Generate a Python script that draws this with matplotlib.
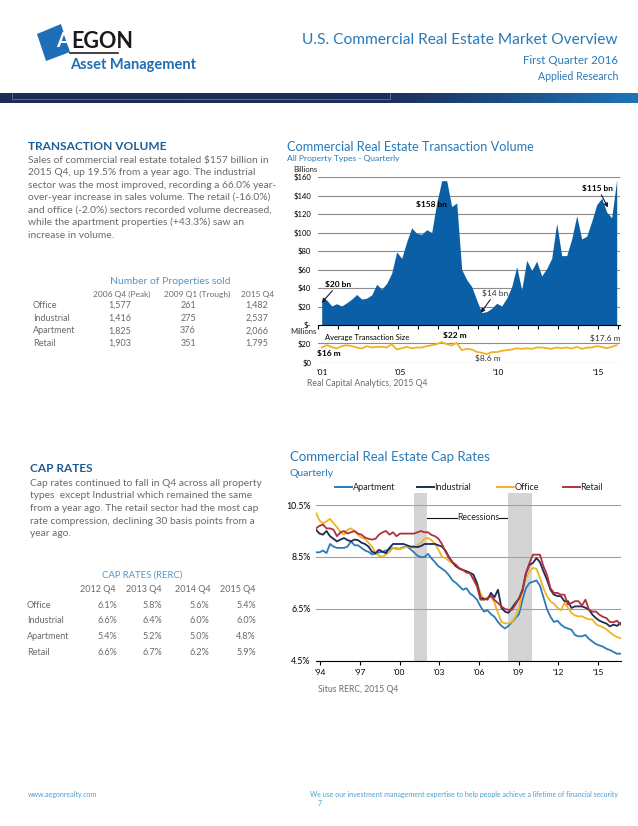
import numpy as np
import matplotlib.pyplot as plt
from matplotlib.patches import Polygon
from matplotlib.colors import LinearSegmentedColormap

plt.rcParams['font.family'] = ['Lato', 'DejaVu Sans']

W, H = 638, 826

# ---- data ----
# quarterly transaction volume, $ billions, 2001 Q1 .. 2015 Q4
volume_bn = [26, 27, 20.6, 23, 20.6, 24, 28, 33, 28, 29, 32.5, 44,
             38.6, 45, 56, 79, 72, 90, 105, 99, 98, 103, 100, 132,
             156, 156, 128, 132, 60, 49, 41.5, 27, 13.4, 14.5, 18, 23.5,
             20.6, 29, 41.5, 63, 38, 70, 59, 69, 53, 61, 72, 110,
             75, 75, 93, 118, 93, 96, 112, 130, 137, 122, 116, 157]
# average transaction size, $ millions
avg_size_m = [15.8, 18.2, 16.5, 14.7, 17.2, 18.2, 17.2, 15.8, 14.7, 17.2, 15.8, 16.5,
              16.5, 15.8, 19.3, 13.7, 15.0, 16.5, 15.0, 15.8, 15.8, 17.2, 18.2, 19.3,
              21.4, 19.3, 17.9, 20.7, 13.0, 14.4, 13.7, 11.2, 10.2, 8.8, 10.9, 10.9,
              12.3, 13.0, 13.7, 15.0, 14.4, 15.0, 14.4, 15.8, 15.8, 15.0, 14.4, 15.8,
              15.0, 15.8, 14.7, 16.5, 14.4, 15.8, 15.8, 17.2, 16.5, 15.0, 16.5, 18.2]

prop_sectors = ['Office', 'Industrial', 'Apartment', 'Retail']
prop_periods = ['2006 Q4 (Peak)', '2009 Q1 (Trough)', '2015 Q4']
prop_counts = [['1,577', '261', '1,482'],
               ['1,416', '275', '2,537'],
               ['1,825', '376', '2,066'],
               ['1,903', '351', '1,795']]

cap_periods = ['2012 Q4', '2013 Q4', '2014 Q4', '2015 Q4']
cap_table = [['6.1%', '5.8%', '5.6%', '5.4%'],
             ['6.6%', '6.4%', '6.0%', '6.0%'],
             ['5.4%', '5.2%', '5.0%', '4.8%'],
             ['6.6%', '6.7%', '6.2%', '5.9%']]

# quarterly cap rates (%), 1994 Q1 .. 2015 Q4
cap_apartment = [8.68, 8.68, 8.75, 8.65, 9.0, 8.9, 8.85, 8.85, 8.85, 8.9, 9.1, 8.95,
                 8.95, 8.85, 8.75, 8.7, 8.6, 8.62, 8.68, 8.7, 8.75, 8.8, 8.85, 8.82,
                 8.82, 8.88, 8.9, 8.8, 8.68, 8.55, 8.5, 8.5, 8.62, 8.45, 8.3, 8.14,
                 8.05, 7.95, 7.8, 7.6, 7.5, 7.37, 7.24, 7.3, 7.1, 7.0, 6.86, 6.6,
                 6.4, 6.45, 6.3, 6.2, 6.0, 5.85, 5.75, 5.85, 6.0, 6.15, 6.3, 6.85,
                 7.3, 7.5, 7.55, 7.6, 7.4, 6.95, 6.5, 6.2, 6.0, 6.05, 5.9, 5.8,
                 5.75, 5.7, 5.5, 5.45, 5.45, 5.5, 5.35, 5.25, 5.15, 5.1, 5.05, 4.97,
                 4.92, 4.85, 4.78, 4.78]
cap_office = [10.2, 9.9, 9.8, 9.87, 9.97, 9.8, 9.65, 9.45, 9.36, 9.55, 9.6, 9.5,
              9.36, 9.25, 9.2, 9.05, 8.9, 8.65, 8.55, 8.5, 8.6, 8.7, 8.85, 8.85,
              8.8, 8.85, 8.9, 8.88, 8.85, 8.95, 9.05, 9.2, 9.23, 9.15, 9.0, 8.78,
              8.5, 8.46, 8.35, 8.27, 8.15, 8.08, 8.0, 7.95, 7.85, 7.7, 7.5, 7.12,
              6.85, 6.95, 7.0, 6.75, 6.35, 6.0, 5.95, 5.94, 6.0, 6.2, 6.5, 7.24,
              7.7, 7.95, 8.08, 8.05, 7.7, 7.3, 7.0, 6.8, 6.7, 6.55, 6.45, 6.73,
              6.55, 6.35, 6.25, 6.22, 6.22, 6.15, 6.1, 6.1, 5.92, 5.85, 5.8, 5.72,
              5.6, 5.5, 5.42, 5.38]
cap_industrial = [9.55, 9.4, 9.36, 9.5, 9.3, 9.2, 9.1, 9.17, 9.23, 9.15, 9.1, 9.17,
                  9.15, 9.05, 9.0, 8.9, 8.7, 8.65, 8.78, 8.7, 8.65, 8.85, 9.0, 9.0,
                  9.0, 9.0, 8.95, 8.9, 8.9, 8.88, 8.92, 9.0, 9.0, 9.0, 9.0, 8.95,
                  8.9, 8.75, 8.5, 8.3, 8.14, 8.05, 8.0, 7.95, 7.9, 7.82, 7.5, 6.92,
                  6.9, 6.86, 7.12, 6.95, 7.24, 6.54, 6.4, 6.35, 6.54, 6.73, 6.9, 7.24,
                  7.88, 8.2, 8.27, 8.46, 8.3, 7.95, 7.63, 7.24, 7.05, 7.0, 6.99, 6.8,
                  6.8, 6.54, 6.6, 6.6, 6.6, 6.55, 6.47, 6.28, 6.15, 6.05, 5.99, 5.94,
                  5.83, 5.9, 5.85, 5.96]
cap_retail = [9.6, 9.7, 9.75, 9.6, 9.6, 9.55, 9.3, 9.45, 9.5, 9.4, 9.45, 9.5,
              9.4, 9.36, 9.25, 9.2, 9.17, 9.2, 9.36, 9.45, 9.5, 9.36, 9.45, 9.3,
              9.4, 9.4, 9.4, 9.4, 9.4, 9.45, 9.5, 9.45, 9.45, 9.35, 9.3, 9.2,
              9.0, 8.7, 8.46, 8.3, 8.2, 8.05, 8.0, 7.9, 7.88, 7.63, 7.37, 6.86,
              6.86, 6.9, 7.0, 6.85, 6.73, 6.6, 6.5, 6.47, 6.47, 6.67, 6.9, 7.18,
              7.88, 8.27, 8.59, 8.59, 8.59, 8.14, 7.82, 7.3, 7.12, 7.12, 7.05, 7.05,
              6.67, 6.73, 6.8, 6.8, 6.63, 6.86, 6.47, 6.4, 6.4, 6.28, 6.2, 6.15,
              6.0, 5.99, 6.05, 5.9]
recessions = [(2001.0, 2001.9), (2007.75, 2009.4)]

BLUE = '#0b5fa7'
TITLE_BLUE = '#2a79b6'
HEAD_BLUE = '#1d5d97'
TABLE_BLUE = '#5296c6'
GREY = '#6a6a6a'
GOLD = '#f0b323'
FOOT = '#4a9fd0'

fig = plt.figure(figsize=(W / 100, H / 100), dpi=100)
bg = fig.add_axes([0, 0, 1, 1])
bg.set_xlim(0, W)
bg.set_ylim(H, 0)
bg.set_autoscale_on(False)
bg.axis('off')


def txt(x, y, s, **kw):
    kw.setdefault('va', 'center')
    bg.text(x, y, s, **kw)


# ---- header ----
bg.add_patch(Polygon([(37, 34), (61, 24), (70, 52), (46, 61)], closed=True,
                     facecolor='#1f6fb8', edgecolor='none'))
txt(56, 41, 'A', fontsize=14.5, fontweight='bold', color='white')
txt(71, 41, 'EGON', fontsize=15.5, fontweight='bold', color='#1a1a1a')
bg.plot([70, 118], [53, 53], color='#222222', lw=1.2)
txt(70, 65, 'Asset Management', fontsize=10.5, fontweight='bold', color='#1f6db3')

txt(618, 40, 'U.S. Commercial Real Estate Market Overview', fontsize=11.2,
    color=TITLE_BLUE, ha='right')
txt(618, 60, 'First Quarter 2016', fontsize=8.3, color=TITLE_BLUE, ha='right')
txt(618, 77, 'Applied Research', fontsize=7.6, color=TITLE_BLUE, ha='right')

band = LinearSegmentedColormap.from_list('band', ['#1c2c57', '#1c2f5c', '#1e74b9'])
grad = np.linspace(0, 1, 256).reshape(1, -1) ** 1.4
bg.imshow(grad, extent=[0, W, 103, 93], aspect='auto', cmap=band, zorder=1)
bg.plot([12, 12, 390, 390], [93, 99, 99, 93], color='#8fa6c8', lw=0.6, alpha=0.6, zorder=2)

# ---- transaction volume text ----
txt(28, 147, 'TRANSACTION VOLUME', fontsize=8.6, fontweight='bold', color=HEAD_BLUE)
tv_lines = ['Sales of commercial real estate totaled $157 billion in',
            '2015 Q4, up 19.5% from a year ago. The industrial',
            'sector was the most improved, recording a 66.0% year-',
            'over-year increase in sales volume. The retail (-16.0%)',
            'and office (-2.0%) sectors recorded volume decreased,',
            'while the apartment properties (+43.3%) saw an',
            'increase in volume.']
for k, line in enumerate(tv_lines):
    txt(28, 160 + k * 12.5, line, fontsize=7.4, color=GREY)

txt(170, 282, 'Number of Properties sold', fontsize=7.5, color=TABLE_BLUE, ha='center')
prop_head_x = [122, 197, 258]
prop_x = [120, 188, 257]
for px_, head in zip(prop_head_x, prop_periods):
    txt(px_, 294, head, fontsize=6.0, color=GREY, ha='center')
for r, (sector, row) in enumerate(zip(prop_sectors, prop_counts)):
    yy = 305.5 + r * 12.7
    txt(33, yy, sector, fontsize=6.5, color=GREY)
    for px_, v in zip(prop_x, row):
        txt(px_, yy, v, fontsize=6.5, color=GREY, ha='center')

# ---- cap rate text ----
txt(30, 469, 'CAP RATES', fontsize=8.6, fontweight='bold', color=HEAD_BLUE)
cr_lines = ['Cap rates continued to fall in Q4 across all property',
            'types  except Industrial which remained the same',
            'from a year ago. The retail sector had the most cap',
            'rate compression, declining 30 basis points from a',
            'year ago.']
for k, line in enumerate(cr_lines):
    txt(30, 483 + k * 12.75, line, fontsize=7.4, color=GREY)

txt(142, 575, 'CAP RATES (RERC)', fontsize=6.8, color=TABLE_BLUE, ha='center')
cap_head_x = [98, 144, 193, 238]
cap_val_x = [117, 162, 209, 256]
for px_, head in zip(cap_head_x, cap_periods):
    txt(px_, 589, head, fontsize=6.5, color=GREY, ha='center')
for r, (sector, row) in enumerate(zip(prop_sectors, cap_table)):
    yy = 605 + r * 15.7
    txt(27, yy, sector, fontsize=6.5, color=GREY)
    for px_, v in zip(cap_val_x, row):
        txt(px_, yy, v, fontsize=6.5, color=GREY, ha='right')

# ---- transaction volume chart ----
txt(287, 147, 'Commercial Real Estate Transaction Volume', fontsize=9.2,
    color=TITLE_BLUE)
txt(287, 159, 'All Property Types - Quarterly', fontsize=6.1, color=TITLE_BLUE)
txt(293, 169.5, 'Billions', fontsize=5.5, color='#222222')
txt(290, 332, 'Millions', fontsize=5.5, color='#222222')

qx = 2001.185 + 0.25 * np.arange(len(volume_bn))

ax1 = fig.add_axes([318 / W, 1 - 325 / H, 302 / W, 148 / H])
ax1.set_facecolor('none')
ax1.fill_between(qx, volume_bn, 0, color=BLUE, lw=0, zorder=2)
ax1.set_xlim(2001, 2016.1)
ax1.set_ylim(0, 160)
ax1.set_yticks(np.arange(0, 161, 20))
ax1.set_yticklabels(['$-'] + ['$%d' % v for v in range(20, 161, 20)])
ax1.set_axisbelow(True)
ax1.grid(axis='y', color='#8c8c8c', lw=0.8)
ax1.set_xticks(np.arange(2001, 2017))
ax1.tick_params(axis='x', length=3, width=0.8, direction='out', labelbottom=False)
ax1.tick_params(axis='y', length=0, labelsize=5.5, pad=5)
for s in ['top', 'right', 'left']:
    ax1.spines[s].set_visible(False)
ax1.spines['bottom'].set_linewidth(0.8)

ax1.annotate('$20 bn', xy=(qx[0], 24), xytext=(2002.0, 44), fontsize=6,
             fontweight='bold', ha='center', va='center', zorder=5,
             arrowprops=dict(arrowstyle='-|>', color='#1a1a3a', lw=0.8,
                             mutation_scale=6, shrinkA=0, shrinkB=0))
ax1.text(2006.7, 130.5, '$158 bn', fontsize=6, fontweight='bold', ha='center', va='center')
ax1.annotate('$14 bn', xy=(qx[32] - 0.05, 13), xytext=(2009.85, 34.5), fontsize=6,
             color='#333333', ha='center', va='center', zorder=5,
             arrowprops=dict(arrowstyle='-|>', color='#1a1a3a', lw=0.8,
                             mutation_scale=6, shrinkA=0, shrinkB=0))
ax1.annotate('$115 bn', xy=(2015.5, 127), xytext=(2015.0, 147.5), fontsize=6,
             fontweight='bold', ha='center', va='center', zorder=5,
             arrowprops=dict(arrowstyle='-|>', color='#1a1a3a', lw=0.8,
                             mutation_scale=6, shrinkA=0, shrinkB=0))

ax2 = fig.add_axes([318 / W, 1 - 362.5 / H, 302 / W, 23.75 / H])
ax2.set_facecolor('none')
ax2.plot(qx, avg_size_m, color=GOLD, lw=1.3, zorder=3)
ax2.set_xlim(2001, 2016.1)
ax2.set_ylim(0, 25)
ax2.set_yticks([0, 20])
ax2.set_yticklabels(['$0', '$20'])
ax2.grid(axis='y', color='#8c8c8c', lw=0.8)
ax2.set_xticks([2001.2, 2005.1, 2010.0, 2015.0])
ax2.set_xticklabels(["'01", "'05", "'10", "'15"])
ax2.tick_params(axis='x', length=0, labelsize=6, pad=5)
ax2.tick_params(axis='y', length=0, labelsize=5.5, pad=5)
for s in ax2.spines.values():
    s.set_visible(False)
ax2.text(2001.35, 26.8, 'Average Transaction Size', fontsize=5.5, va='center', clip_on=False)
ax2.text(2007.85, 28, '$22 m', fontsize=6, fontweight='bold', ha='center', va='center')
ax2.text(2000.95, 9.8, '$16 m', fontsize=6, fontweight='bold', va='center')
ax2.text(2009.5, 4.5, '$8.6 m', fontsize=6, color='#333333', ha='center', va='center')
ax2.text(2016.1, 25.5, '$17.6 m', fontsize=6, color='#333333', ha='right', va='center')

txt(307, 384, 'Real Capital Analytics, 2015 Q4', fontsize=6.2, color=GREY)

# ---- cap rate chart ----
txt(290, 457, 'Commercial Real Estate Cap Rates', fontsize=9.5, color=TITLE_BLUE)
txt(290, 473, 'Quarterly', fontsize=7.5, color=TITLE_BLUE)

cap_names = ['Apartment', 'Industrial', 'Office', 'Retail']
cap_colors = ['#2b7bb9', '#1f2a57', GOLD, '#b3303b']
legend_x = [335, 417, 497, 563]
for name, col, lx in zip(cap_names, cap_colors, legend_x):
    bg.plot([lx, lx + 17], [487, 487], color=col, lw=1.4)
    txt(lx + 17.5, 487, name, fontsize=6.5, color='#222222')

cx = 1994 + 0.25 * np.arange(len(cap_apartment))
ax3 = fig.add_axes([316 / W, 1 - 661 / H, 305 / W, 156 / H])
ax3.set_facecolor('none')
for a, b in recessions:
    ax3.axvspan(a, b, ymin=0, ymax=1.08, color='#d4d4d4', lw=0, clip_on=False, zorder=1)
ax3.plot(cx, cap_apartment, color=cap_colors[0], lw=1.3, zorder=3)
ax3.plot(cx, cap_office, color=cap_colors[2], lw=1.3, zorder=3)
ax3.plot(cx, cap_industrial, color=cap_colors[1], lw=1.3, zorder=3)
ax3.plot(cx, cap_retail, color=cap_colors[3], lw=1.3, zorder=3)
ax3.set_xlim(1994, 2015.79)
ax3.set_ylim(4.5, 10.5)
ax3.set_yticks([4.5, 6.5, 8.5, 10.5])
ax3.set_yticklabels(['4.5%', '6.5%', '8.5%', '10.5%'])
ax3.grid(axis='y', color='#a0a0a0', lw=0.8, zorder=0)
ax3.set_xticks(np.linspace(1994.3, 2014.15, 8))
ax3.set_xticklabels(["'94", "'97", "'00", "'03", "'06", "'09", "'12", "'15"])
ax3.tick_params(axis='x', length=3, width=0.8, labelsize=6, pad=3)
ax3.tick_params(axis='y', length=0, labelsize=6.3, pad=4)
for s in ['top', 'right', 'left']:
    ax3.spines[s].set_visible(False)
ax3.spines['bottom'].set_linewidth(0.8)

txt(478, 518, 'Recessions', fontsize=6.3, color='#222222', ha='center')
bg.plot([423, 457], [518, 518], color='#111111', lw=0.8)
bg.plot([499, 525], [518, 518], color='#111111', lw=0.8)

txt(318, 690, 'Situs RERC, 2015 Q4', fontsize=6.2, color=GREY)

# ---- footer ----
txt(28, 795, 'www.aegonrealty.com', fontsize=5, color=FOOT)
txt(618, 795, 'We use our investment management expertise to help people achieve a lifetime of financial security',
    fontsize=5, color=FOOT, ha='right')
txt(320, 803, '7', fontsize=5, color=FOOT, ha='center')

fig.savefig('out.png', dpi=100)
